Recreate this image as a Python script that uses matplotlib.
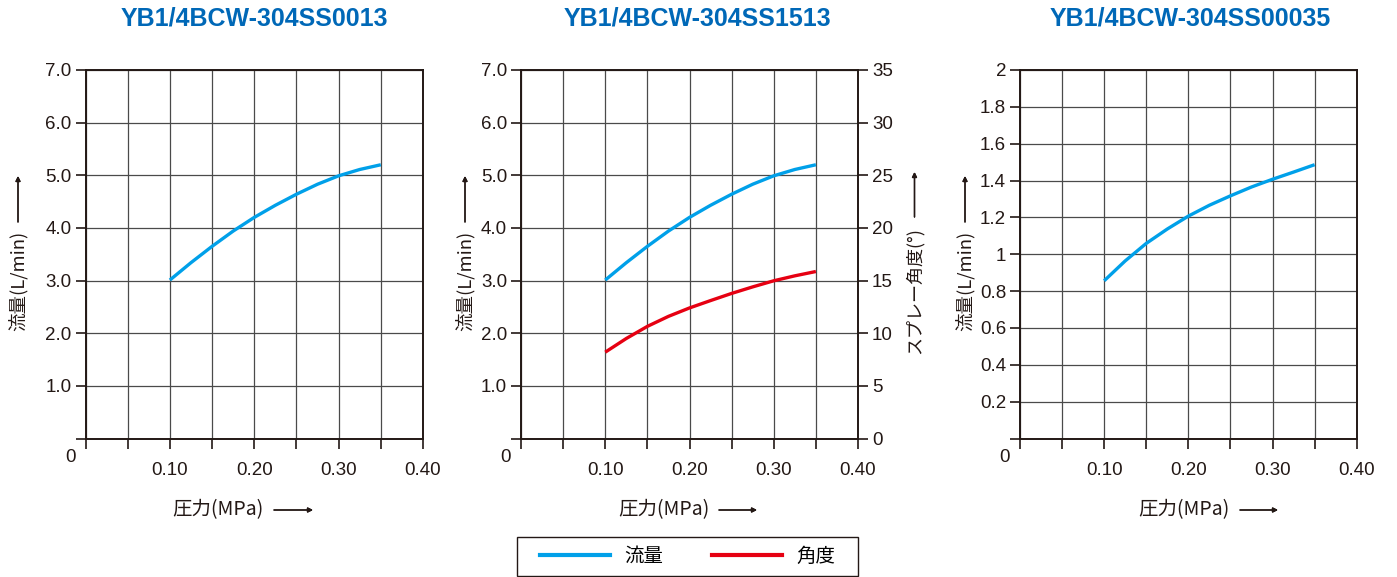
import matplotlib.pyplot as plt
from matplotlib.lines import Line2D
from matplotlib.patches import Rectangle

plt.rcParams['font.family'] = ['Liberation Sans', 'Noto Sans CJK JP', 'DejaVu Sans']

# pressure (MPa)
pressure = [0.10, 0.125, 0.15, 0.175, 0.20, 0.225, 0.25, 0.275, 0.30, 0.325, 0.35]

flow_0013 = [3.01, 3.34, 3.65, 3.94, 4.20, 4.43, 4.64, 4.83, 4.99, 5.11, 5.20]
flow_1513 = [3.01, 3.34, 3.65, 3.94, 4.20, 4.43, 4.64, 4.83, 4.99, 5.11, 5.20]
angle_1513 = [8.2, 9.5, 10.65, 11.6, 12.4, 13.1, 13.78, 14.4, 14.98, 15.45, 15.86]
flow_00035 = [0.856, 0.964, 1.059, 1.137, 1.207, 1.266, 1.317, 1.365, 1.407, 1.446, 1.486]

titles = ['YB1/4BCW-304SS0013', 'YB1/4BCW-304SS1513', 'YB1/4BCW-304SS00035']

blue = '#00a0e9'
red = '#e60012'
title_blue = '#0068b7'
ink = '#231815'

W, H = 1397, 577
fig = plt.figure(figsize=(W / 100, H / 100), dpi=100)


def fx(px):
    return px / W


def fy(py):
    return 1 - py / H


def px_axes(x0, x1, y0, y1):
    return fig.add_axes([fx(x0), fy(y1), (x1 - x0) / W, (y1 - y0) / H])


def style(ax, ymax, ystep, fmt):
    ax.set_xlim(0, 0.40)
    ax.set_ylim(0, ymax)
    xt = [i * 0.05 for i in range(9)]
    ax.set_xticks(xt)
    ax.set_xticklabels(['%.2f' % v if i % 2 == 0 and i > 0 else '' for i, v in enumerate(xt)])
    yt = [i * ystep for i in range(int(round(ymax / ystep)) + 1)]
    ax.set_yticks(yt)
    ax.set_yticklabels([''] + [fmt(v) for v in yt[1:]])
    ax.grid(True, color='#4a4a4a', linewidth=0.9)
    ax.set_axisbelow(True)
    for s in ax.spines.values():
        s.set_linewidth(1.4)
        s.set_color(ink)
    ax.tick_params(axis='both', direction='out', length=7, width=1.2,
                   colors=ink, labelcolor=ink, labelsize=13.5)
    ax.tick_params(axis='x', pad=10)
    ax.tick_params(axis='y', pad=3)
    ax.annotate('0', (0, 0), xycoords='axes fraction', xytext=(-11, -13.5),
                textcoords='offset points', ha='center', va='center',
                fontsize=13.5, color=ink)


ax1 = px_axes(85.5, 423, 70, 438.5)
ax2 = px_axes(521, 858, 70, 438.5)
ax3 = px_axes(1020, 1356.7, 70, 438.5)

style(ax1, 7.0, 1.0, lambda v: '%.1f' % v)
style(ax2, 7.0, 1.0, lambda v: '%.1f' % v)
style(ax3, 2.0, 0.2, lambda v: '%g' % round(v, 1))

ax1.plot(pressure, flow_0013, color=blue, lw=2.4, solid_capstyle='butt')
ax2.plot(pressure, flow_1513, color=blue, lw=2.4, solid_capstyle='butt')
ax3.plot(pressure, flow_00035, color=blue, lw=2.4, solid_capstyle='butt')

ax2r = ax2.twinx()
ax2r.set_ylim(0, 35)
ax2r.set_yticks(range(0, 36, 5))
ax2r.tick_params(axis='y', direction='out', length=7, width=1.2, colors=ink,
                 labelcolor=ink, labelsize=13.5, pad=3)
for s in ax2r.spines.values():
    s.set_visible(False)
ax2r.plot(pressure, angle_1513, color=red, lw=2.4, solid_capstyle='butt')

# titles
for t, cx in zip(titles, [254, 697, 1190]):
    fig.text(fx(cx), fy(19), t, ha='center', va='center', fontsize=18,
             fontweight='bold', color=title_blue)

# axis labels + arrows
cjk = ['Noto Sans CJK JP', 'DejaVu Sans']
arrow = dict(arrowstyle='-|>', lw=1.0, color=ink, mutation_scale=7,
             shrinkA=0, shrinkB=0)


def fig_arrow(x0, y0, x1, y1):
    fig.add_artist(plt.annotate('', xy=(fx(x1), fy(y1)), xytext=(fx(x0), fy(y0)),
                                xycoords='figure fraction', arrowprops=arrow))


for cx, ax0, ax1_ in [(218, 274, 313), (664, 719, 757), (1184, 1240, 1278)]:
    fig.text(fx(cx), fy(510), '圧力(MPa)', ha='center', va='center',
             fontsize=14, color=ink, family=cjk)
    fig_arrow(ax0, 510, ax1_, 510)

for cx in [18, 465, 965]:
    fig.text(fx(cx), fy(281), '流量(L/min)', ha='center', va='center',
             rotation=90, fontsize=13.3, color=ink, family=cjk)
    fig_arrow(cx, 222, cx, 176)

fig.text(fx(914.5), fy(291), 'スプレー角度(°)', ha='center', va='center',
         rotation=90, fontsize=13, color=ink, family=cjk)
fig_arrow(914.5, 217, 914.5, 172)

# legend
fig.add_artist(Rectangle((fx(517), fy(576)), (858 - 517) / W, 39 / H,
                         transform=fig.transFigure, fill=False,
                         edgecolor=ink, linewidth=1.0))
handles = [Line2D([], [], color=blue, lw=3), Line2D([], [], color=red, lw=3)]
fig.legend(handles, ['流量', '角度'], loc='center', ncol=2,
           bbox_to_anchor=(fx(688), fy(556.5)),
           prop={'family': cjk, 'size': 14}, frameon=False,
           handlelength=3.6, handletextpad=0.75, columnspacing=2.5,
           borderpad=0.3, borderaxespad=0)

fig.savefig('out.png', dpi=100)
